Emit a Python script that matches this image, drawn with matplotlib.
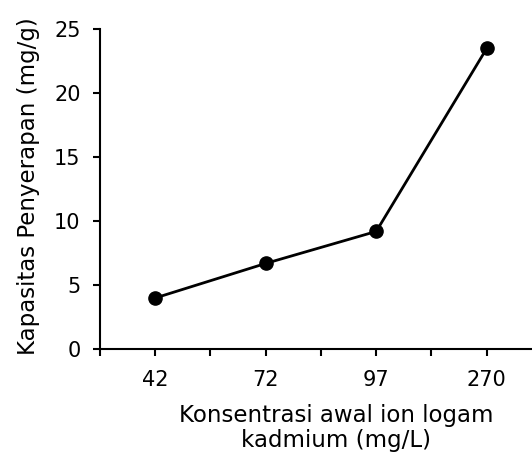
import numpy as np
import matplotlib.pyplot as plt

# data
konsentrasi = ["42", "72", "97", "270"]
kapasitas = [4.0, 6.7, 9.2, 23.5]

plt.rcParams['font.family'] = ['DejaVu Sans']

fig = plt.figure(figsize=(5.32, 4.57), dpi=100)
ax = fig.add_axes([0.188, 0.236, 0.812, 0.700])

x = np.arange(len(konsentrasi))
ax.plot(x, kapasitas, color="black", linewidth=2.0, marker="o", markersize=9.5)

ax.set_xlim(-0.5, 3.41)
ax.set_ylim(0, 25)
ax.set_yticks([0, 5, 10, 15, 20, 25])

# category labels at the points, tick marks at the points and in between
ax.set_xticks(x)
ax.set_xticklabels(konsentrasi)
ax.set_xticks([-0.5, 0.5, 1.5, 2.5], minor=True)
ax.tick_params(axis="x", which="both", length=5, width=1.5, direction="out")
ax.tick_params(axis="x", which="major", pad=10)
ax.tick_params(axis="y", length=5, width=1.5, direction="out", pad=9)
ax.tick_params(labelsize=15)

for s in ["top", "right"]:
    ax.spines[s].set_visible(False)
for s in ["left", "bottom"]:
    ax.spines[s].set_linewidth(1.5)

ax.set_xlabel("Konsentrasi awal ion logam\nkadmium (mg/L)", fontsize=16.5, linespacing=1.12)
ax.xaxis.set_label_coords(0.546, -0.172, transform=ax.transAxes)
ax.xaxis.label.set_va("top")
ax.set_ylabel("Kapasitas Penyerapan (mg/g)", fontsize=16.5)
ax.yaxis.set_label_coords(-0.14, 0.51)

fig.savefig("out.png", dpi=100)
